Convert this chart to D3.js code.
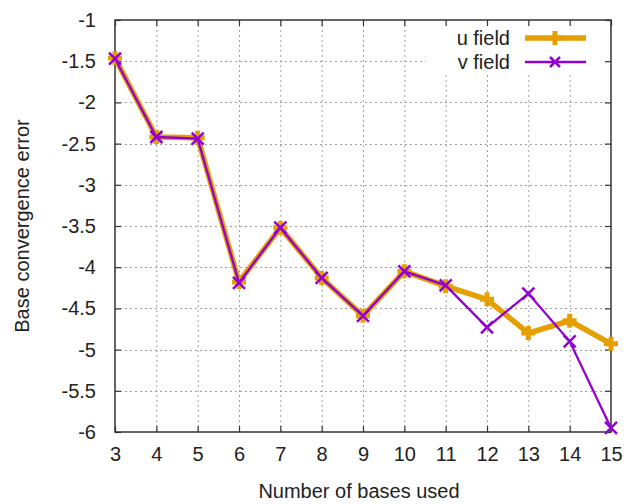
<!DOCTYPE html>
<html>
<head>
<meta charset="utf-8">
<script src="https://cdn.jsdelivr.net/npm/d3@7"></script>
<style>
  html, body { margin: 0; padding: 0; background: #fff; }
  svg { display: block; font-family: "Liberation Sans", Arial, sans-serif; }
</style>
</head>
<body>
<svg id="chart" width="632" height="504"></svg>
<script>
// Number of bases vs. base convergence error (log scale values)
const bases = [3, 4, 5, 6, 7, 8, 9, 10, 11, 12, 13, 14, 15];
const uField = [-1.46, -2.42, -2.43, -4.18, -3.52, -4.13, -4.59, -4.05, -4.23, -4.39, -4.80, -4.65, -4.93];
const vField = [-1.47, -2.42, -2.44, -4.19, -3.52, -4.13, -4.59, -4.05, -4.22, -4.73, -4.32, -4.90, -5.95];
const xTicks = [3, 4, 5, 6, 7, 8, 9, 10, 11, 12, 13, 14, 15];
const yTicks = [-1, -1.5, -2, -2.5, -3, -3.5, -4, -4.5, -5, -5.5, -6];
const seriesNames = ["u field", "v field"];

const margin = { left: 115, right: 21, top: 20, bottom: 72 };
const W = 632, H = 504;
const svg = d3.select("#chart");
const fontSize = "20px";

const x = d3.scaleLinear().domain([3, 15]).range([margin.left, W - margin.right]);
const y = d3.scaleLinear().domain([-6, -1]).range([H - margin.bottom, margin.top]);

const x0 = x.range()[0], x1 = x.range()[1];
const y0 = y.range()[0], y1 = y.range()[1];

// grid
const grid = svg.append("g").attr("stroke", "#a0a0a0").attr("stroke-width", 1)
  .attr("stroke-dasharray", "2,3");
xTicks.slice(1, -1).forEach(t => {
  grid.append("line").attr("x1", x(t) + 0.5).attr("x2", x(t) + 0.5)
    .attr("y1", y1).attr("y2", y0);
});
yTicks.slice(1, -1).forEach(t => {
  grid.append("line").attr("x1", x0).attr("x2", x1)
    .attr("y1", Math.round(y(t)) + 0.5).attr("y2", Math.round(y(t)) + 0.5);
});

// legend background covers the grid behind the key
svg.append("rect").attr("x", 426).attr("y", y1 + 1).attr("width", x1 - 426 - 1).attr("height", 54)
  .attr("fill", "#fff");

// axes with inward ticks on all four sides
const tickLen = 6;
const axisColor = "#333";
const axB = d3.axisBottom(x).tickValues(xTicks).tickSize(-tickLen).tickPadding(15).tickFormat(d3.format("d"));
const axT = d3.axisTop(x).tickValues(xTicks).tickSize(-tickLen).tickFormat("");
const axL = d3.axisLeft(y).tickValues(yTicks).tickSize(-tickLen).tickPadding(19).tickFormat(d => d3.format("")(d).replace("−", "-"));
const axR = d3.axisRight(y).tickValues(yTicks).tickSize(-tickLen).tickFormat("");

function styleAxis(g) {
  g.select(".domain").remove();
  g.selectAll(".tick line").attr("stroke", axisColor).attr("stroke-width", 1.2);
  g.selectAll(".tick text").attr("fill", "#222").style("font-size", fontSize)
    .style("font-family", "'Liberation Sans', Arial, sans-serif");
}
svg.append("g").attr("transform", `translate(0,${y0})`).call(axB).call(styleAxis);
svg.append("g").attr("transform", `translate(0,${y1})`).call(axT).call(styleAxis);
svg.append("g").attr("transform", `translate(${x0},0)`).call(axL).call(styleAxis);
svg.append("g").attr("transform", `translate(${x1},0)`).call(axR).call(styleAxis);

// plot border
svg.append("rect").attr("x", x0).attr("y", y1).attr("width", x1 - x0).attr("height", y0 - y1)
  .attr("fill", "none").attr("stroke", axisColor).attr("stroke-width", 1.5);

// axis titles
svg.append("text").attr("x", 359).attr("y", 498).attr("text-anchor", "middle")
  .attr("fill", "#222").style("font-size", fontSize).text("Number of bases used");
svg.append("text").attr("transform", `translate(29,${(y0 + y1) / 2}) rotate(-90)`)
  .attr("text-anchor", "middle").attr("fill", "#222").style("font-size", fontSize)
  .text("Base convergence error");

const colors = ["#E69F00", "#9400D3"];
const widths = [5.5, 2.3];
const line = d3.line().x((d, i) => x(bases[i])).y(d => y(d));

// plus marker for u, cross marker for v
function plusPath(cx, cy, r) { return `M${cx - r},${cy}H${cx + r}M${cx},${cy - r}V${cy + r}`; }
function crossPath(cx, cy, r) { return `M${cx - r},${cy - r}L${cx + r},${cy + r}M${cx - r},${cy + r}L${cx + r},${cy - r}`; }

const series = [uField, vField];
series.forEach((vals, s) => {
  svg.append("path").datum(vals).attr("d", line).attr("fill", "none")
    .attr("stroke", colors[s]).attr("stroke-width", widths[s]).attr("stroke-linejoin", "miter");
  svg.append("g").selectAll("path").data(vals).join("path")
    .attr("d", (d, i) => s === 0 ? plusPath(x(bases[i]), y(d), 7) : crossPath(x(bases[i]), y(d), 6))
    .attr("stroke", colors[s]).attr("stroke-width", s === 0 ? 5 : 2.5).attr("fill", "none");
});

// key
const legY = [38, 62];
seriesNames.forEach((name, s) => {
  svg.append("text").attr("x", 510).attr("y", legY[s] + 7).attr("text-anchor", "end")
    .attr("fill", "#222").style("font-size", fontSize).text(name);
  svg.append("line").attr("x1", 525).attr("x2", 586).attr("y1", legY[s]).attr("y2", legY[s])
    .attr("stroke", colors[s]).attr("stroke-width", widths[s]);
  svg.append("path").attr("d", s === 0 ? plusPath(555, legY[s], 7) : crossPath(555, legY[s], 5))
    .attr("stroke", colors[s]).attr("stroke-width", s === 0 ? 5 : 2.5).attr("fill", "none");
});
</script>
</body>
</html>
